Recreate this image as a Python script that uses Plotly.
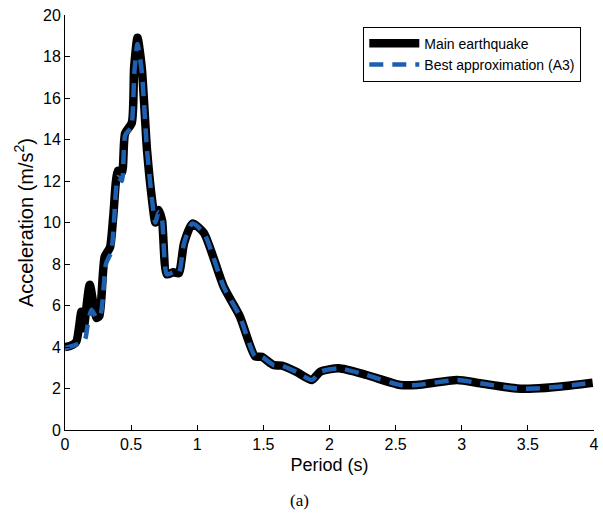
import plotly.graph_objects as go

# Main earthquake spectrum
period_main = [0.0, 0.04, 0.085, 0.124, 0.141, 0.187, 0.238, 0.26, 0.30, 0.34, 0.365, 0.40, 0.43,
               0.454, 0.505, 0.523, 0.548, 0.58, 0.62, 0.658, 0.683, 0.708, 0.734, 0.77, 0.82,
               0.86, 0.90, 0.963, 1.05, 1.2, 1.323, 1.437, 1.488, 1.576, 1.64, 1.75, 1.867, 1.93,
               2.07, 2.28, 2.535, 2.66, 2.965, 3.14, 3.42, 3.545, 3.75, 3.99]
acc_main = [4.0, 4.05, 4.25, 5.7, 4.9, 7.0, 5.4, 5.5, 8.35, 8.8, 10.3, 12.5, 12.4,
            14.3, 14.8, 17.5, 18.9, 17.5, 13.5, 11.1, 10.0, 10.6, 10.1, 7.5, 7.6,
            7.55, 9.0, 9.95, 9.5, 6.9, 5.46, 3.55, 3.53, 3.13, 3.1, 2.8, 2.41, 2.81,
            2.97, 2.65, 2.17, 2.17, 2.41, 2.25, 2.0, 2.0, 2.1, 2.28]

# Best approximation (A3)
period_approx = [0.0, 0.08, 0.15, 0.17, 0.20, 0.24, 0.27, 0.31, 0.35, 0.37, 0.40, 0.43,
                 0.455, 0.50, 0.525, 0.548, 0.58, 0.62, 0.658, 0.683, 0.708, 0.734, 0.77, 0.82,
                 0.86, 0.90, 0.963, 1.05, 1.2, 1.323, 1.437, 1.488, 1.576, 1.64, 1.75, 1.867, 1.93,
                 2.07, 2.28, 2.535, 2.66, 2.965, 3.14, 3.42, 3.545, 3.75, 3.99]
acc_approx = [3.95, 4.1, 4.35, 5.0, 5.8, 5.4, 5.6, 8.0, 8.6, 10.0, 12.2, 12.0,
              14.2, 14.6, 17.3, 18.6, 17.3, 13.5, 11.1, 10.0, 10.5, 10.1, 7.5, 7.6,
              7.55, 9.0, 9.95, 9.5, 6.9, 5.46, 3.55, 3.53, 3.13, 3.1, 2.8, 2.41, 2.81,
              2.97, 2.65, 2.17, 2.17, 2.41, 2.25, 2.0, 2.0, 2.1, 2.28]

x_ticks = [0, 0.5, 1, 1.5, 2, 2.5, 3, 3.5, 4]
x_tick_labels = ["0", "0.5", "1", "1.5", "2", "2.5", "3", "3.5", "4"]
y_ticks = list(range(0, 21, 2))

fig = go.Figure()
fig.add_trace(go.Scatter(
    x=period_main, y=acc_main, mode="lines", name="Main earthquake",
    line=dict(color="black", width=8.5, shape="spline", smoothing=0.6),
))
fig.add_trace(go.Scatter(
    x=period_approx, y=acc_approx, mode="lines", name="Best approximation (A3)",
    line=dict(color="#1f5fb0", width=4.5, dash="14px,9px", shape="spline", smoothing=0.6),
))

fam = "Liberation Sans, Arial, sans-serif"
tick_font = dict(family=fam, size=16, color="black")
fig.update_layout(
    width=603, height=525,
    margin=dict(l=65, r=9, t=15, b=95, autoexpand=False),
    paper_bgcolor="white", plot_bgcolor="white",
    font=dict(family=fam, size=16, color="black"),
    showlegend=True,
    legend=dict(
        x=0.976, y=0.972, xanchor="right", yanchor="top",
        bordercolor="black", borderwidth=1, bgcolor="white",
        font=dict(family=fam, size=14, color="black"),
        tracegroupgap=0, itemwidth=50,
    ),
    xaxis=dict(
        range=[0, 4], tickvals=x_ticks, ticktext=x_tick_labels,
        ticks="inside", ticklen=5, tickcolor="black",
        showline=True, linecolor="black", linewidth=1, mirror=False,
        showgrid=False, zeroline=False, automargin=False,
        title=dict(text="Period (s)", font=dict(family=fam, size=18), standoff=6),
        tickfont=tick_font,
    ),
    yaxis=dict(
        range=[0, 20], tickvals=y_ticks,
        ticks="inside", ticklen=5, tickcolor="black",
        showline=True, linecolor="black", linewidth=1, mirror=False,
        showgrid=False, zeroline=False, automargin=False,
        title=dict(text="Acceleration (m/s<sup>2</sup>)", font=dict(family=fam, size=20), standoff=4),
        tickfont=tick_font,
    ),
)
fig.add_annotation(
    text="(a)", xref="paper", yref="paper", x=0.444, y=-0.169,
    showarrow=False, xanchor="center", yanchor="middle",
    font=dict(family="Liberation Serif, Times New Roman, serif", size=17, color="black"),
)

fig.write_html("out.html")
